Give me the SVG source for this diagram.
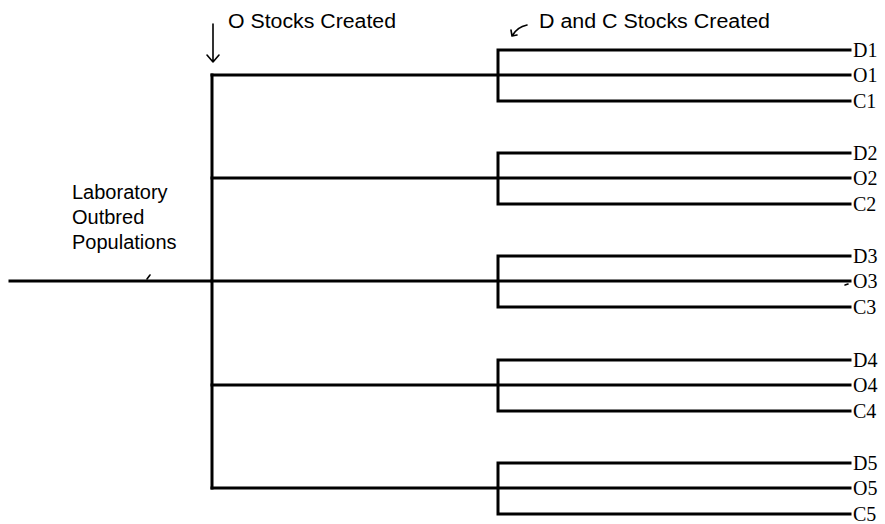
<svg xmlns="http://www.w3.org/2000/svg" width="885" height="524" viewBox="0 0 885 524">
<style>
.ln{stroke:#000;stroke-width:3;fill:none;stroke-linecap:square}
.thin{stroke:#000;stroke-width:1.6;fill:none;stroke-linecap:round;stroke-linejoin:round}
.sans{font-family:"Liberation Sans",Arial,sans-serif;font-size:20px;fill:#000}
.lab{font-family:"Liberation Serif","Times New Roman",serif;font-size:20px;fill:#000}
</style>
<rect width="885" height="524" fill="#fff"/>
<g id="connectors">
<path class="ln" d="M10 281H212M212 75V488"/>
<path class="ln" d="M212 75H850M212 178H850M212 281H850M212 385H850M212 488H850"/>
<path class="ln" d="M498 50V101M498 50H850M498 101H850"/>
<path class="ln" d="M498 153V204M498 153H850M498 204H850"/>
<path class="ln" d="M498 256V307M498 256H850M498 307H850"/>
<path class="ln" d="M498 360V411M498 360H850M498 411H850"/>
<path class="ln" d="M498 463V514M498 463H850M498 514H850"/>
</g>
<g id="o-arrow">
<path class="thin" d="M213 24V62M207 55L213 62L219 55"/>
<text class="sans" x="228" y="28" textLength="168" lengthAdjust="spacingAndGlyphs">O Stocks Created</text>
</g>
<g id="dc-arrow">
<path class="thin" d="M527 25Q517 27 512 36M511 30L512 36L517 35"/>
<text class="sans" x="539" y="28" textLength="231" lengthAdjust="spacingAndGlyphs">D and C Stocks Created</text>
</g>
<g id="source">
<text class="sans" x="72" y="199">Laboratory</text>
<text class="sans" x="72" y="224">Outbred</text>
<text class="sans" x="72" y="249">Populations</text>
<path class="thin" d="M147 279L150 275"/>
</g>
<g id="g1"><text class="lab" x="853" y="57">D1</text><text class="lab" x="853" y="82">O1</text><text class="lab" x="853" y="108">C1</text></g>
<g id="g2"><text class="lab" x="853" y="160">D2</text><text class="lab" x="853" y="185">O2</text><text class="lab" x="853" y="211">C2</text></g>
<g id="g3"><text class="lab" x="853" y="263">D3</text><text class="lab" x="853" y="288">O3</text><text class="lab" x="853" y="314">C3</text><path class="thin" d="M845 285L848 284"/></g>
<g id="g4"><text class="lab" x="853" y="367">D4</text><text class="lab" x="853" y="392">O4</text><text class="lab" x="853" y="418">C4</text></g>
<g id="g5"><text class="lab" x="853" y="470">D5</text><text class="lab" x="853" y="495">O5</text><text class="lab" x="853" y="521">C5</text></g>
</svg>
